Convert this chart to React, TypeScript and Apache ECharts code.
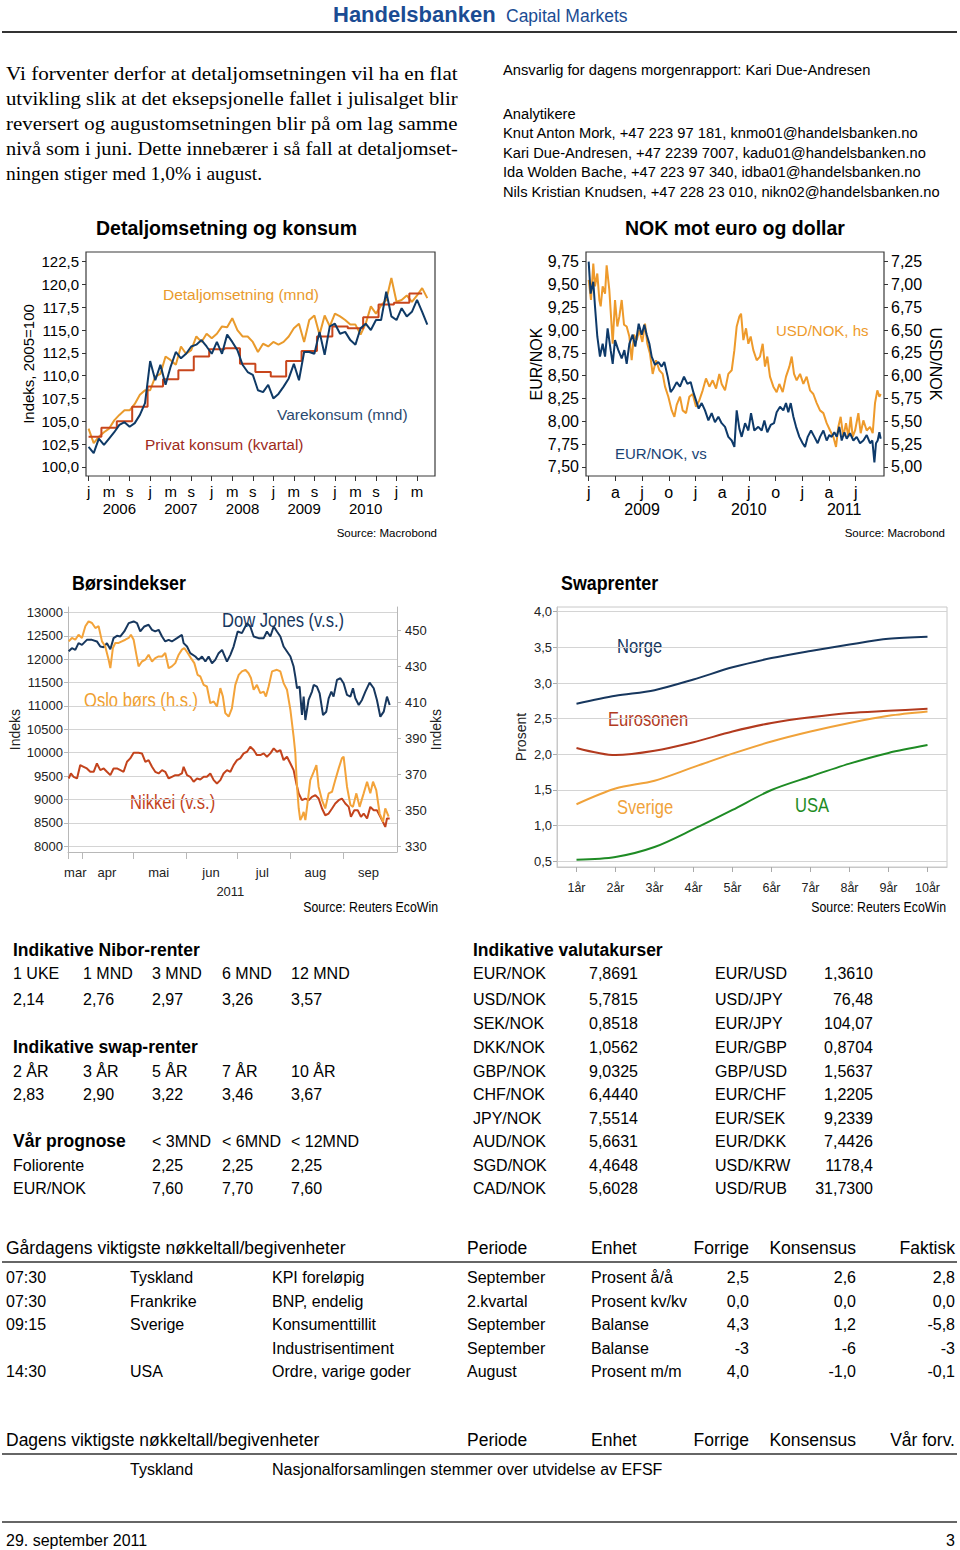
import React, { useEffect, useRef } from 'react';
import * as echarts from 'echarts';

const SANS = '"Liberation Sans", Arial, Helvetica, sans-serif';
const SERIF = '"Liberation Serif", "Times New Roman", Times, serif';
const NARROW_SCALE = 0.85;

// ---------------- Chart 1: Detaljomsetning og konsum ----------------
const c1Years = ['2006', '2007', '2008', '2009', '2010', '2011'];
const monthLetters = ['j', 'f', 'm', 'a', 'm', 'j', 'j', 'a', 's', 'o', 'n', 'd'];
const c1Categories: string[] = [];
c1Years.forEach((y) => monthLetters.forEach((_, m) => c1Categories.push(`${y}-${String(m + 1).padStart(2, '0')}`)));
const c1Cats = c1Categories.slice(0, 68);
const c1YearLabelYears = ['2006', '2007', '2008', '2009', '2010'];
const detaljomsetning = [
  104.2, 102.6, 103.3, 103.8, 104.2, 105.1, 105.7, 106.2, 106.2, 106.9, 107.9, 108.4,
  108.4, 109.9, 110.2, 112.1, 111.7, 111.2, 113.2, 112.4, 112.8, 114.3, 113.7, 114.6,
  114.1, 114.6, 115.4, 115.3, 116.3, 115.0, 114.3, 114.3, 113.7, 112.6, 113.5, 113.2,
  113.7, 113.4, 113.7, 114.3, 115.2, 115.7, 113.7, 116.1, 116.6, 114.5, 116.6, 115.4,
  116.8, 116.5, 116.1, 115.6, 115.6, 114.5, 115.7, 117.6, 116.8, 117.7, 118.3, 120.7,
  118.1, 118.3, 118.8, 118.1, 118.8, 119.6, 118.5,
];
const varekonsum = [
  102.2, 101.5, 103.1, 102.4, 103.1, 103.8, 104.6, 104.9, 104.4, 104.8, 105.7, 107.0,
  111.6, 109.5, 111.2, 109.0, 111.0, 112.6, 111.9, 112.4, 113.2, 113.4, 113.9, 113.2,
  112.4, 113.7, 112.4, 114.5, 113.7, 112.8, 111.2, 110.4, 110.1, 108.4, 108.2, 109.0,
  107.5, 108.0, 108.8, 109.7, 111.3, 109.5, 112.6, 112.6, 112.4, 114.8, 112.3, 115.4,
  115.7, 114.6, 114.8, 113.9, 113.4, 115.2, 115.7, 115.0, 116.1, 116.1, 119.2, 116.5,
  116.1, 117.4, 116.5, 117.0, 118.3, 117.0, 115.6,
];
const privatKonsumKvartal = [
  103.3, 104.3, 105.0, 106.6,
  108.8, 109.6, 110.6, 112.1,
  112.9, 113.0, 111.3, 110.4,
  109.9, 111.6, 112.7, 114.3,
  115.4, 115.2, 116.4, 117.8,
  118.0, 119.0,
];
const c1Ticks = [100, 102.5, 105, 107.5, 110, 112.5, 115, 117.5, 120, 122.5];

// ---------------- Chart 2: NOK mot euro og dollar (x = months since Jan 2009) ----------------
const c2MonthTicks = [0, 3, 6, 9, 12, 15, 18, 21, 24, 27, 30];
const quarterLetters = ['j', 'a', 'j', 'o'];
const c2YearPos = [6, 18, 28.7];
const c2YearLabels = ['2009', '2010', '2011'];
const eurTicks = [7.5, 7.75, 8, 8.25, 8.5, 8.75, 9, 9.25, 9.5, 9.75];
const usdTicks = [5, 5.25, 5.5, 5.75, 6, 6.25, 6.5, 6.75, 7, 7.25];
const eurNok = [
  [0, 9.75], [0.22, 9.4], [0.52, 9.53], [0.71, 9.26], [0.97, 8.93], [1.27, 8.71], [1.57, 8.85], [1.84, 8.71],
  [2.13, 9.02], [2.47, 8.78], [2.7, 8.63], [2.96, 8.89], [3.33, 8.78], [3.71, 8.69], [4.01, 8.78], [4.27, 8.63],
  [4.57, 8.85], [4.94, 8.95], [5.24, 8.82], [5.62, 9.07], [5.96, 8.95], [6.25, 9.06], [6.52, 8.95], [6.82, 8.85],
  [7.08, 8.71], [7.45, 8.62], [7.83, 8.65], [8.2, 8.6], [8.5, 8.65], [8.88, 8.49], [9.21, 8.32], [9.51, 8.36],
  [9.89, 8.43], [10.26, 8.38], [10.71, 8.49], [11.09, 8.41], [11.46, 8.43], [11.76, 8.32], [12.06, 8.23],
  [12.36, 8.14], [12.7, 8.2], [13.07, 8.12], [13.45, 8.01], [13.82, 8.09], [14.19, 7.99], [14.57, 8.05],
  [14.94, 7.98], [15.32, 7.94], [15.69, 7.83], [16.07, 7.79], [16.37, 7.72], [16.63, 8.12], [16.93, 7.92],
  [17.19, 7.83], [17.57, 7.98], [17.94, 7.9], [18.24, 8.09], [18.61, 7.9], [19.06, 7.94], [19.44, 7.9],
  [19.74, 8.01], [20.07, 7.88], [20.45, 7.96], [20.82, 7.98], [21.12, 8.1], [21.5, 8.16], [21.87, 8.12],
  [22.17, 8.2], [22.43, 8.1], [22.7, 8.2], [23.0, 8.05], [23.3, 7.94], [23.67, 7.83], [24.04, 7.76],
  [24.31, 7.72], [24.61, 7.83], [24.98, 7.9], [25.36, 7.83], [25.73, 7.76], [25.99, 7.83], [26.37, 7.9],
  [26.74, 7.79], [27.04, 7.85], [27.3, 7.83], [27.6, 7.88], [27.87, 7.83], [28.16, 7.94], [28.43, 7.79],
  [28.73, 7.88], [28.99, 7.81], [29.36, 7.87], [29.74, 7.79], [30.11, 7.83], [30.49, 7.76], [30.86, 7.79],
  [31.24, 7.85], [31.61, 7.76], [31.87, 7.79], [32.1, 7.55], [32.28, 7.76], [32.47, 7.79], [32.66, 7.88],
  [32.81, 7.81],
];
const usdNok = [
  [0, 7.05], [0.26, 6.83], [0.52, 7.23], [0.71, 6.98], [0.97, 7.12], [1.2, 6.83], [1.35, 6.76], [1.57, 6.98],
  [1.84, 6.9], [2.02, 7.21], [2.32, 6.94], [2.51, 6.65], [2.7, 6.35], [2.96, 6.83], [3.22, 6.54], [3.45, 6.65],
  [3.71, 6.83], [3.97, 6.56], [4.27, 6.54], [4.57, 6.43], [4.83, 6.17], [5.09, 6.45], [5.39, 6.39], [5.69, 6.5],
  [6.03, 6.37], [6.33, 6.57], [6.59, 6.35], [6.89, 6.24], [7.19, 6.02], [7.57, 6.17], [7.94, 6.06], [8.31, 6.02],
  [8.58, 5.88], [8.95, 5.77], [9.33, 5.62], [9.63, 5.55], [9.89, 5.68], [10.26, 5.77], [10.56, 5.62],
  [10.94, 5.59], [11.31, 5.77], [11.69, 5.8], [12.06, 5.66], [12.43, 5.73], [12.81, 5.84], [13.18, 5.97],
  [13.56, 5.88], [13.93, 5.95], [14.31, 5.86], [14.68, 6.02], [14.94, 5.91], [15.32, 5.84], [15.69, 6.02],
  [16.07, 6.06], [16.37, 6.28], [16.63, 6.54], [16.93, 6.65], [17.12, 6.68], [17.38, 6.39], [17.68, 6.52],
  [17.94, 6.35], [18.2, 6.43], [18.5, 6.28], [18.88, 6.17], [19.25, 6.21], [19.55, 6.35], [19.81, 6.1],
  [20.07, 6.21], [20.37, 5.99], [20.75, 5.88], [21.12, 5.82], [21.42, 5.91], [21.8, 5.82], [22.17, 5.99],
  [22.55, 6.1], [22.81, 6.21], [23.07, 6.02], [23.37, 5.95], [23.75, 6.02], [24.12, 5.91], [24.49, 5.99],
  [24.87, 5.84], [25.24, 5.8], [25.62, 5.7], [25.99, 5.62], [26.37, 5.59], [26.74, 5.48], [27.12, 5.4],
  [27.49, 5.33], [27.79, 5.22], [28.05, 5.44], [28.31, 5.55], [28.61, 5.33], [28.91, 5.48], [29.18, 5.33],
  [29.44, 5.55], [29.66, 5.33], [29.93, 5.4], [30.3, 5.59], [30.56, 5.37], [30.86, 5.51], [31.24, 5.4],
  [31.61, 5.44], [31.91, 5.37], [32.17, 5.7], [32.43, 5.84], [32.66, 5.77], [32.81, 5.8],
];

// ---------------- Chart 3: Børsindekser (x = days since 1 March 2011) ----------------
const c3MonthTicks = [22.4, 31, 61, 92, 122, 153, 184];
const c3MonthLabelPos = [26.7, 45.3, 75.7, 106.5, 136.7, 167.9, 199.2];
const c3MonthNames = ['mar', 'apr', 'mai', 'jun', 'jul', 'aug', 'sep'];
const c3YearPos = [117.9];
const c3YearLabels = ['2011'];
const c3LeftTicks = [8000, 8500, 9000, 9500, 10000, 10500, 11000, 11500, 12000, 12500, 13000];
const c3RightTicks = [330, 350, 370, 390, 410, 430, 450];
const dowJones = [
  [22.8, 12170], [24.7, 12236], [26.7, 12200], [28.6, 12343], [30.6, 12307], [33.5, 12414], [36.5, 12414],
  [39.4, 12380], [41.4, 12270], [43.4, 12257], [45.3, 12343], [47.3, 12214], [49.2, 12450], [51.2, 12500],
  [53.2, 12486], [55.5, 12593], [58.1, 12771], [61.0, 12807], [63.0, 12771], [64.9, 12593], [67.3, 12700],
  [69.8, 12736], [71.8, 12628], [73.7, 12593], [75.7, 12628], [77.7, 12486], [79.6, 12379], [81.6, 12414],
  [83.5, 12379], [86.5, 12450], [89.4, 12521], [90.4, 12343], [92.4, 12271], [94.3, 12129], [97.3, 12057],
  [99.2, 11986], [101.2, 12057], [103.2, 11950], [105.1, 12057], [107.1, 11914], [109.0, 11986],
  [111.0, 12129], [113.0, 12200], [115.9, 11950], [117.9, 12093], [119.8, 12271], [122.2, 12593],
  [124.7, 12557], [127.7, 12771], [129.6, 12700], [131.6, 12486], [134.5, 12450], [137.5, 12450],
  [139.4, 12593], [141.4, 12486], [143.4, 12700], [145.3, 12593], [147.3, 12486], [149.2, 12271],
  [151.2, 12164], [153.2, 12057], [155.1, 11843], [156.1, 11629], [157.1, 11379], [158.6, 11414],
  [160.0, 10807], [161.0, 11200], [162.0, 10700], [163.9, 11129], [165.9, 11307], [166.9, 11450],
  [168.8, 11414], [170.4, 11271], [172.4, 10807], [174.3, 10878], [175.7, 11164], [177.3, 11307],
  [178.6, 11200], [180.6, 11557], [182.6, 11593], [184.5, 11486], [186.5, 11236], [188.5, 11200],
  [190.0, 11379], [191.4, 11164], [193.4, 11021], [195.3, 11129], [197.3, 11307], [199.8, 11500],
  [202.2, 11379], [204.1, 11129], [206.1, 10771], [208.1, 10878], [210.0, 11200], [211.6, 11021],
];
const osloBors = [
  [22.8, 443.9], [24.7, 445.8], [26.7, 444.8], [28.6, 447.6], [30.6, 445.8], [32.6, 452.3], [34.5, 455.0],
  [36.5, 454.1], [38.5, 451.3], [40.4, 452.3], [42.4, 443.9], [44.3, 441.1], [46.3, 433.7], [47.3, 429.0],
  [48.8, 440.2], [50.2, 443.0], [52.2, 443.0], [54.1, 443.9], [56.1, 444.8], [58.1, 445.8], [59.4, 447.6],
  [61.0, 444.8], [62.6, 436.5], [63.9, 430.0], [65.9, 432.7], [67.9, 433.7], [69.8, 436.5], [71.8, 432.7],
  [73.7, 434.6], [75.7, 435.5], [77.7, 435.5], [79.6, 437.4], [81.6, 429.0], [83.5, 430.0], [85.5, 431.8],
  [87.5, 436.5], [89.4, 439.3], [90.8, 440.2], [92.8, 437.4], [94.7, 434.6], [96.7, 431.8], [98.6, 425.3],
  [100.2, 424.4], [102.2, 419.7], [104.1, 418.8], [106.1, 409.5], [108.1, 410.5], [110.0, 407.7],
  [112.0, 417.9], [113.5, 413.2], [114.9, 404.0], [116.9, 402.1], [118.8, 406.7], [120.8, 419.7],
  [122.8, 425.3], [124.7, 427.2], [126.7, 428.1], [128.6, 426.2], [130.0, 423.5], [131.6, 417.0],
  [133.5, 419.7], [135.5, 415.1], [137.5, 416.0], [138.8, 413.2], [140.4, 418.8], [142.4, 427.2],
  [145.3, 428.1], [147.3, 427.2], [149.2, 420.7], [151.2, 417.0], [153.2, 405.8], [155.1, 390.9],
  [156.1, 381.7], [157.1, 363.1], [158.1, 351.0], [159.0, 344.5], [160.0, 346.4], [161.0, 349.1],
  [162.0, 344.5], [163.0, 351.9], [164.9, 366.8], [166.9, 371.4], [168.5, 375.1], [169.8, 363.1],
  [171.8, 355.6], [173.7, 351.0], [175.7, 359.4], [177.7, 360.3], [179.6, 366.8], [181.6, 373.3],
  [183.5, 378.9], [184.5, 379.8], [186.5, 363.1], [188.5, 352.9], [190.0, 351.9], [192.0, 359.4],
  [193.9, 351.9], [196.3, 359.4], [198.3, 365.9], [200.2, 359.4], [201.8, 365.9], [203.7, 361.2],
  [205.7, 348.2], [207.7, 343.6], [209.0, 351.0], [211.0, 346.4],
];
const nikkei = [
  [22.8, 9450], [24.1, 9557], [25.7, 9486], [27.7, 9450], [29.6, 9736], [31.6, 9700], [33.5, 9664],
  [35.5, 9593], [37.5, 9593], [39.4, 9771], [41.4, 9629], [43.4, 9664], [45.3, 9593], [47.3, 9521],
  [49.2, 9664], [51.2, 9664], [53.2, 9629], [55.1, 9593], [57.1, 9807], [59.0, 9879], [61.0, 10000],
  [63.9, 10000], [65.9, 9986], [67.9, 9807], [69.8, 9843], [71.8, 9700], [73.7, 9593], [75.7, 9557],
  [77.7, 9629], [79.6, 9593], [81.6, 9450], [83.5, 9486], [85.5, 9521], [87.5, 9521], [89.4, 9557],
  [90.4, 9700], [92.4, 9521], [94.3, 9486], [96.3, 9379], [98.3, 9450], [100.2, 9429], [102.2, 9486],
  [104.1, 9486], [106.1, 9557], [108.1, 9414], [110.0, 9343], [112.0, 9414], [113.9, 9557], [115.9, 9629],
  [117.9, 9593], [119.8, 9736], [121.8, 9843], [123.7, 9879], [125.7, 9986], [127.7, 10021], [129.6, 10129],
  [131.6, 10057], [133.5, 9950], [135.5, 9950], [137.5, 9986], [139.4, 9914], [141.4, 9986], [143.4, 10093],
  [145.3, 10021], [147.3, 10057], [149.2, 9843], [151.2, 9914], [153.2, 9771], [155.1, 9629], [156.7, 9343],
  [158.1, 9129], [160.0, 8986], [162.0, 9021], [163.9, 8986], [165.9, 9057], [167.9, 9093], [169.8, 9021],
  [171.8, 8807], [173.7, 8664], [175.7, 8700], [177.7, 8807], [179.6, 8914], [181.6, 8986], [183.5, 9021],
  [185.5, 8914], [187.5, 8843], [188.8, 8629], [190.8, 8771], [192.8, 8771], [194.7, 8629], [196.3, 8700],
  [198.3, 8593], [200.2, 8843], [202.2, 8771], [204.1, 8771], [206.1, 8629], [208.1, 8486], [209.0, 8414],
  [210.0, 8593], [211.6, 8593],
];

// ---------------- Chart 4: Swaprenter ----------------
const tenors = ['1år', '2år', '3år', '4år', '5år', '6år', '7år', '8år', '9år', '10år'];
const swapNorge = [2.71, 2.82, 2.9, 3.05, 3.22, 3.35, 3.45, 3.54, 3.62, 3.65];
const swapEuro = [2.09, 1.99, 2.05, 2.17, 2.32, 2.44, 2.52, 2.58, 2.61, 2.64];
const swapSverige = [1.3, 1.52, 1.63, 1.82, 2.01, 2.18, 2.32, 2.44, 2.54, 2.6];
const swapUSA = [0.52, 0.56, 0.7, 0.95, 1.22, 1.5, 1.69, 1.87, 2.02, 2.13];
const swapTicks = [0.5, 1, 1.5, 2, 2.5, 3, 3.5, 4];

// ---------------- Texts / tables ----------------
const paragraphLines = [
  'Vi forventer derfor at detaljomsetningen vil ha en flat',
  'utvikling slik at det eksepsjonelle fallet i julisalget blir',
  'reversert og augustomsetningen blir på om lag samme',
  'nivå som i juni. Dette innebærer i så fall at detaljomset-',
  'ningen stiger med 1,0% i august.',
];
const analystLines = [
  'Knut Anton Mork, +47 223 97 181, knmo01@handelsbanken.no',
  'Kari Due-Andresen, +47 2239 7007, kadu01@handelsbanken.no',
  'Ida Wolden Bache, +47 223 97 340, idba01@handelsbanken.no',
  'Nils Kristian Knudsen, +47 228 23 010, nikn02@handelsbanken.no',
];
const niborTenors = ['1 UKE', '1 MND', '3 MND', '6 MND', '12 MND'];
const niborRates = ['2,14', '2,76', '2,97', '3,26', '3,57'];
const swapTenorsTable = ['2 ÅR', '3 ÅR', '5 ÅR', '7 ÅR', '10 ÅR'];
const swapRatesTable = ['2,83', '2,90', '3,22', '3,46', '3,67'];
const prognoseHeads = ['< 3MND', '< 6MND', '< 12MND'];
const prognoseFolio = ['2,25', '2,25', '2,25'];
const prognoseEurNok = ['7,60', '7,70', '7,60'];
const fxLeftPairs = ['EUR/NOK', 'USD/NOK', 'SEK/NOK', 'DKK/NOK', 'GBP/NOK', 'CHF/NOK', 'JPY/NOK', 'AUD/NOK', 'SGD/NOK', 'CAD/NOK'];
const fxLeftRates = ['7,8691', '5,7815', '0,8518', '1,0562', '9,0325', '6,4440', '7,5514', '5,6631', '4,4648', '5,6028'];
const fxRightPairs = ['EUR/USD', 'USD/JPY', 'EUR/JPY', 'EUR/GBP', 'GBP/USD', 'EUR/CHF', 'EUR/SEK', 'EUR/DKK', 'USD/KRW', 'USD/RUB'];
const fxRightRates = ['1,3610', '76,48', '104,07', '0,8704', '1,5637', '1,2205', '9,2339', '7,4426', '1178,4', '31,7300'];
const gardagensHead = ['Gårdagens viktigste nøkkeltall/begivenheter', 'Periode', 'Enhet', 'Forrige', 'Konsensus', 'Faktisk'];
const gardagensRows = [
  ['07:30', 'Tyskland', 'KPI foreløpig', 'September', 'Prosent å/å', '2,5', '2,6', '2,8'],
  ['07:30', 'Frankrike', 'BNP, endelig', '2.kvartal', 'Prosent kv/kv', '0,0', '0,0', '0,0'],
  ['09:15', 'Sverige', 'Konsumenttillit', 'September', 'Balanse', '4,3', '1,2', '-5,8'],
  ['', '', 'Industrisentiment', 'September', 'Balanse', '-3', '-6', '-3'],
  ['14:30', 'USA', 'Ordre, varige goder', 'August', 'Prosent m/m', '4,0', '-1,0', '-0,1'],
];
const dagensHead = ['Dagens viktigste nøkkeltall/begivenheter', 'Periode', 'Enhet', 'Forrige', 'Konsensus', 'Vår forv.'];
const dagensRows = [['', 'Tyskland', 'Nasjonalforsamlingen stemmer over utvidelse av EFSF']];

const comma = (v: number, d: number) => v.toFixed(d).replace('.', ',');

const txt = (text: string, x: number, y: number, o: any = {}) => ({
  type: 'text',
  x,
  y,
  silent: true,
  scaleX: o.scaleX ?? 1,
  style: {
    text,
    fill: o.fill ?? '#000',
    fontSize: o.size ?? 16,
    fontFamily: o.family ?? SANS,
    fontWeight: o.weight ?? 'normal',
    textAlign: o.align ?? 'left',
    align: o.align ?? 'left',
    textVerticalAlign: 'middle',
    verticalAlign: 'middle',
  },
});
const hline = (x1: number, x2: number, y: number, w = 1.5, c = '#333') => ({
  type: 'line',
  silent: true,
  shape: { x1, y1: y, x2, y2: y },
  style: { stroke: c, lineWidth: w },
});

function buildGraphics() {
  const g: any[] = [];
  const nar = (o: any = {}) => ({ scaleX: NARROW_SCALE, ...o });
  // header
  g.push(txt('Handelsbanken', 333, 14, { size: 22, weight: 'bold', fill: '#1B4C93' }));
  g.push(txt('Capital Markets', 506, 15.5, { size: 17.5, fill: '#1B4C93' }));
  g.push(hline(2, 957, 32, 2, '#333'));

  // justified paragraph
  const ctx = document.createElement('canvas').getContext('2d');
  const pSize = 19.5;
  const pY = [73, 98, 123, 148, 173];
  paragraphLines.forEach((line, i) => {
    let sx = 1;
    if (ctx && i < paragraphLines.length - 1) {
      ctx.font = `${pSize}px "Liberation Serif", "Times New Roman", serif`;
      const w = ctx.measureText(line).width;
      if (w > 0) sx = Math.max(0.9, Math.min(1.12, (458 - 6) / w));
    }
    g.push(txt(line, 6, pY[i], { size: pSize, family: SERIF, scaleX: sx }));
  });

  // right block
  g.push(txt('Ansvarlig for dagens morgenrapport: Kari Due-Andresen', 503, 70, { size: 14.7 }));
  g.push(txt('Analytikere', 503, 114, { size: 14.7 }));
  analystLines.forEach((l, i) => g.push(txt(l, 503, 133 + i * 19.5, { size: 14.7 })));

  // chart titles / sources / inline labels
  g.push(txt('Detaljomsetning og konsum', 96, 228, { size: 19.5, weight: 'bold' }));
  g.push(txt('NOK mot euro og dollar', 625, 228, { size: 19.5, weight: 'bold' }));
  g.push(txt('Source: Macrobond', 437, 533, { size: 11.5, align: 'right' }));
  g.push(txt('Source: Macrobond', 945, 533, { size: 11.5, align: 'right' }));
  g.push(txt('Detaljomsetning (mnd)', 163, 294, { size: 15.5, fill: '#E99A2C' }));
  g.push(txt('Varekonsum (mnd)', 277, 414, { size: 15.5, fill: '#2B4A6F' }));
  g.push(txt('Privat konsum (kvartal)', 145, 444, { size: 15.5, fill: '#9E2A1B' }));
  g.push(txt('USD/NOK, hs', 776, 330, { size: 15, fill: '#EE9A2B' }));
  g.push(txt('EUR/NOK, vs', 615, 453, { size: 15, fill: '#1A4373' }));

  g.push(txt('Børsindekser', 72, 582, nar({ size: 21, weight: 'bold' })));
  g.push(txt('Swaprenter', 561, 582, nar({ size: 21, weight: 'bold' })));
  g.push(txt('Source: Reuters EcoWin', 438, 907, nar({ size: 14.5, align: 'right' })));
  g.push(txt('Source: Reuters EcoWin', 946, 907, nar({ size: 14.5, align: 'right' })));
  g.push(txt('Dow Jones (v.s.)', 222, 621, nar({ size: 19.5, fill: '#17375E' })));
  g.push(txt('Oslo børs (h.s.)', 84, 701, nar({ size: 19.5, fill: '#F0A030' })));
  g.push(txt('Nikkei (v.s.)', 130, 803, nar({ size: 19.5, fill: '#C3431C' })));
  g.push(txt('Norge', 617, 647, nar({ size: 19.5, fill: '#17375E' })));
  g.push(txt('Eurosonen', 608, 720, nar({ size: 19.5, fill: '#B23A1E' })));
  g.push(txt('Sverige', 617, 808, nar({ size: 19.5, fill: '#F0A23A' })));
  g.push(txt('USA', 795, 806, nar({ size: 19.5, fill: '#1E8B24' })));

  // Nibor / swap / prognose tables
  const cols = [13, 83, 152, 222, 291];
  const hb = { size: 17.5, weight: 'bold' };
  g.push(txt('Indikative Nibor-renter', 13, 950, hb));
  niborTenors.forEach((t, i) => g.push(txt(t, cols[i], 973)));
  niborRates.forEach((t, i) => g.push(txt(t, cols[i], 999)));
  g.push(txt('Indikative swap-renter', 13, 1047, hb));
  swapTenorsTable.forEach((t, i) => g.push(txt(t, cols[i], 1071)));
  swapRatesTable.forEach((t, i) => g.push(txt(t, cols[i], 1094)));
  g.push(txt('Vår prognose', 13, 1141, hb));
  prognoseHeads.forEach((t, i) => g.push(txt(t, cols[i + 2], 1141)));
  g.push(txt('Foliorente', 13, 1165));
  prognoseFolio.forEach((t, i) => g.push(txt(t, cols[i + 2], 1165)));
  g.push(txt('EUR/NOK', 13, 1188));
  prognoseEurNok.forEach((t, i) => g.push(txt(t, cols[i + 2], 1188)));

  // FX table
  const fxY = [973, 999, 1023, 1047, 1071, 1094, 1118, 1141, 1165, 1188];
  g.push(txt('Indikative valutakurser', 473, 950, hb));
  fxLeftPairs.forEach((t, i) => g.push(txt(t, 473, fxY[i])));
  fxLeftRates.forEach((t, i) => g.push(txt(t, 589, fxY[i])));
  fxRightPairs.forEach((t, i) => g.push(txt(t, 715, fxY[i])));
  fxRightRates.forEach((t, i) => g.push(txt(t, 873, fxY[i], { align: 'right' })));

  // events tables
  const headX = [6, 467, 591];
  const headRight = [749, 856, 955];
  const hs = { size: 17.5 };
  const head = (h: string[], y: number) => {
    g.push(txt(h[0], headX[0], y, hs));
    g.push(txt(h[1], headX[1], y, hs));
    g.push(txt(h[2], headX[2], y, hs));
    g.push(txt(h[3], headRight[0], y, { ...hs, align: 'right' }));
    g.push(txt(h[4], headRight[1], y, { ...hs, align: 'right' }));
    g.push(txt(h[5], headRight[2], y, { ...hs, align: 'right' }));
  };
  head(gardagensHead, 1248);
  g.push(hline(2, 957, 1262, 1.5, '#333'));
  const rowX = [6, 130, 272, 467, 591];
  const rowY = [1277, 1301, 1324, 1348, 1371];
  gardagensRows.forEach((r, i) => {
    r.forEach((c, j) => {
      if (!c) return;
      if (j < 5) g.push(txt(c, rowX[j], rowY[i]));
      else g.push(txt(c, headRight[j - 5], rowY[i], { align: 'right' }));
    });
  });
  head(dagensHead, 1440);
  g.push(hline(2, 957, 1454, 1.5, '#333'));
  dagensRows.forEach((r) => r.forEach((c, j) => c && g.push(txt(c, rowX[j], 1469))));
  g.push(hline(2, 957, 1522, 1.5, '#333'));
  g.push(txt('29. september 2011', 6, 1540));
  g.push(txt('3', 955, 1540, { align: 'right' }));
  return g;
}

function buildOption() {
  const privatMonthly = privatKonsumKvartal.flatMap((v) => [v, v, v]);
  const lbl = (size: number, color = '#000') => ({ fontSize: size, fontFamily: SANS, color });
  const nearIdx = (arr: number[], v: number) => arr.findIndex((p) => Math.abs(p - v) < 0.01);
  const line = (name: string, data: any[], color: string, xi: number, yi: number, extra: any = {}) => ({
    type: 'line',
    name,
    data,
    xAxisIndex: xi,
    yAxisIndex: yi,
    showSymbol: false,
    symbol: 'none',
    silent: true,
    lineStyle: { color, width: 2 },
    itemStyle: { color },
    ...extra,
  });
  const nm = { nameMoveOverlap: false };

  return {
    animation: false,
    backgroundColor: '#fff',
    grid: [
      { left: 86, top: 252, width: 349, height: 224, show: true, borderColor: '#3a3a3a', borderWidth: 1.2, containLabel: false, outerBoundsMode: 'none' },
      { left: 586, top: 252, width: 298, height: 224, show: true, borderColor: '#3a3a3a', borderWidth: 1.2, containLabel: false, outerBoundsMode: 'none' },
      { left: 68, top: 607, width: 329, height: 245, containLabel: false, outerBoundsMode: 'none' },
      { left: 557, top: 607, width: 390, height: 260, show: true, borderColor: '#c8c8c8', borderWidth: 1, containLabel: false, outerBoundsMode: 'none' },
    ],
    xAxis: [
      {
        type: 'category', gridIndex: 0, data: c1Cats, boundaryGap: true, position: 'bottom', ...nm,
        axisLine: { show: false, onZero: false },
        axisTick: { show: true, alignWithLabel: true, interval: (i: number) => i % 4 === 0, length: 5, lineStyle: { color: '#333' } },
        axisLabel: { interval: (i: number) => i % 4 === 0, formatter: (v: string) => monthLetters[Number(v.slice(5)) - 1], margin: 8, ...lbl(15) },
        splitLine: { show: false },
      },
      {
        type: 'category', gridIndex: 0, data: c1Cats, boundaryGap: true, position: 'bottom', ...nm,
        axisLine: { show: false, onZero: false }, axisTick: { show: false },
        axisLabel: {
          interval: (i: number) => i % 12 === 6 && c1YearLabelYears.includes(c1Cats[i].slice(0, 4)),
          formatter: (v: string) => v.slice(0, 4), margin: 25, ...lbl(15),
        },
        splitLine: { show: false },
      },
      {
        type: 'value', gridIndex: 1, min: -0.3, max: 33.18, position: 'bottom', ...nm,
        axisLine: { show: false, onZero: false },
        axisTick: { show: true, customValues: c2MonthTicks, length: 5, lineStyle: { color: '#333' } },
        axisLabel: { customValues: c2MonthTicks, formatter: (v: number) => quarterLetters[Math.round((v % 12) / 3)], margin: 8, ...lbl(16) },
        splitLine: { show: false },
      },
      {
        type: 'value', gridIndex: 1, min: -0.3, max: 33.18, position: 'bottom', ...nm,
        axisLine: { show: false, onZero: false }, axisTick: { show: false },
        axisLabel: { customValues: c2YearPos, formatter: (v: number) => c2YearLabels[nearIdx(c2YearPos, v)] ?? '', margin: 25, ...lbl(16) },
        splitLine: { show: false },
      },
      {
        type: 'value', gridIndex: 2, min: 22.4, max: 215.9, position: 'bottom', ...nm,
        axisLine: { show: true, onZero: false, lineStyle: { color: '#b8b8b8' } },
        axisTick: { show: true, customValues: c3MonthTicks, length: 7, lineStyle: { color: '#b8b8b8' } },
        axisLabel: { customValues: c3MonthLabelPos, formatter: (v: number) => c3MonthNames[nearIdx(c3MonthLabelPos, v)] ?? '', margin: 14, ...lbl(13, '#222') },
        splitLine: { show: false },
      },
      {
        type: 'value', gridIndex: 2, min: 22.4, max: 215.9, position: 'bottom', ...nm,
        axisLine: { show: false, onZero: false }, axisTick: { show: false },
        axisLabel: { customValues: c3YearPos, formatter: (v: number) => c3YearLabels[nearIdx(c3YearPos, v)] ?? '', margin: 33, ...lbl(13, '#222') },
        splitLine: { show: false },
      },
      {
        type: 'category', gridIndex: 3, data: tenors, boundaryGap: true, position: 'bottom', ...nm,
        axisLine: { show: true, onZero: false, lineStyle: { color: '#c8c8c8' } },
        axisTick: { show: true, alignWithLabel: true, interval: 0, length: 5, lineStyle: { color: '#aaa' } },
        axisLabel: { interval: 0, margin: 14, ...lbl(12.5, '#222') },
        splitLine: { show: false },
      },
    ],
    yAxis: [
      {
        type: 'value', gridIndex: 0, min: 99.0, max: 123.56, position: 'left', ...nm,
        axisLine: { show: false, onZero: false }, splitLine: { show: false },
        axisTick: { show: true, customValues: c1Ticks, length: 4, lineStyle: { color: '#333' } },
        axisLabel: { customValues: c1Ticks, formatter: (v: number) => comma(v, 1), margin: 7, ...lbl(15) },
        name: 'Indeks, 2005=100', nameLocation: 'middle', nameGap: 50, nameRotate: 90,
        nameTextStyle: { fontSize: 15, fontFamily: SANS, color: '#000' },
      },
      {
        type: 'value', gridIndex: 1, min: 7.401, max: 9.856, position: 'left', ...nm,
        axisLine: { show: false, onZero: false }, splitLine: { show: false },
        axisTick: { show: true, customValues: eurTicks, length: 4, lineStyle: { color: '#333' } },
        axisLabel: { customValues: eurTicks, formatter: (v: number) => comma(v, 2), margin: 7, ...lbl(16) },
        name: 'EUR/NOK', nameLocation: 'middle', nameGap: 42, nameRotate: 90,
        nameTextStyle: { fontSize: 16, fontFamily: SANS, color: '#000' },
      },
      {
        type: 'value', gridIndex: 1, min: 4.901, max: 7.356, position: 'right', ...nm,
        axisLine: { show: false, onZero: false }, splitLine: { show: false },
        axisTick: { show: true, customValues: usdTicks, length: 4, lineStyle: { color: '#333' } },
        axisLabel: { customValues: usdTicks, formatter: (v: number) => comma(v, 2), margin: 7, ...lbl(16) },
        name: 'USD/NOK', nameLocation: 'middle', nameGap: 43, nameRotate: -90,
        nameTextStyle: { fontSize: 16, fontFamily: SANS, color: '#000' },
      },
      {
        type: 'value', gridIndex: 2, min: 7878, max: 13116, position: 'left', ...nm,
        axisLine: { show: true, onZero: false, lineStyle: { color: '#b8b8b8' } },
        splitLine: { show: true, lineStyle: { color: '#d4d4d4', width: 1 } },
        axisTick: { show: true, customValues: c3LeftTicks, length: 4, lineStyle: { color: '#b8b8b8' } },
        axisLabel: { customValues: c3LeftTicks, formatter: (v: number) => String(v), margin: 5, ...lbl(13, '#222') },
        name: 'Indeks', nameLocation: 'middle', nameGap: 46, nameRotate: 90,
        nameTextStyle: { fontSize: 14, fontFamily: SANS, color: '#222' },
      },
      {
        type: 'value', gridIndex: 2, min: 326.8, max: 463.0, position: 'right', ...nm,
        axisLine: { show: true, onZero: false, lineStyle: { color: '#b8b8b8' } },
        splitLine: { show: false },
        axisTick: { show: true, customValues: c3RightTicks, length: 4, lineStyle: { color: '#b8b8b8' } },
        axisLabel: { customValues: c3RightTicks, formatter: (v: number) => String(v), margin: 8, ...lbl(13, '#222') },
        name: 'Indeks', nameLocation: 'middle', nameGap: 32, nameRotate: 90,
        nameTextStyle: { fontSize: 14, fontFamily: SANS, color: '#222' },
      },
      {
        type: 'value', gridIndex: 3, min: 0.42, max: 4.066, position: 'left', ...nm,
        axisLine: { show: true, onZero: false, lineStyle: { color: '#c8c8c8' } },
        splitLine: { show: true, lineStyle: { color: '#d4d4d4', width: 1 } },
        axisTick: { show: true, customValues: swapTicks, length: 4, lineStyle: { color: '#aaa' } },
        axisLabel: { customValues: swapTicks, formatter: (v: number) => comma(v, 1), margin: 5, ...lbl(13, '#222') },
        name: 'Prosent', nameLocation: 'middle', nameGap: 29, nameRotate: 90,
        nameTextStyle: { fontSize: 14, fontFamily: SANS, color: '#222' },
      },
    ],
    series: [
      line('Detaljomsetning (mnd)', detaljomsetning, '#E99A2C', 0, 0),
      line('Privat konsum (kvartal)', privatMonthly, '#C8461C', 0, 0, { step: 'middle' }),
      line('Varekonsum (mnd)', varekonsum, '#0F3A66', 0, 0),
      line('USD/NOK, hs', usdNok, '#EE9A2B', 2, 2),
      line('EUR/NOK, vs', eurNok, '#0E3A6A', 2, 1),
      line('Dow Jones (v.s.)', dowJones, '#17375E', 4, 3),
      line('Nikkei (v.s.)', nikkei, '#C3431C', 4, 3),
      line('Oslo børs (h.s.)', osloBors, '#F3A33A', 4, 4),
      line('Norge', swapNorge, '#17375E', 6, 5, { smooth: 0.3 }),
      line('Eurosonen', swapEuro, '#B23A1E', 6, 5, { smooth: 0.3 }),
      line('Sverige', swapSverige, '#F0A23A', 6, 5, { smooth: 0.3 }),
      line('USA', swapUSA, '#1E8B24', 6, 5, { smooth: 0.3 }),
    ],
    graphic: { elements: buildGraphics() },
  };
}

export default function App() {
  const ref = useRef<HTMLDivElement>(null);
  useEffect(() => {
    if (!ref.current) return;
    const chart = echarts.init(ref.current, null, { renderer: 'svg', width: 960, height: 1550 });
    chart.setOption(buildOption() as any);
    return () => chart.dispose();
  }, []);
  return (
    <div
      ref={ref}
      style={{ position: 'absolute', left: 0, top: 0, width: 960, height: 1550, background: '#fff' }}
    />
  );
}
